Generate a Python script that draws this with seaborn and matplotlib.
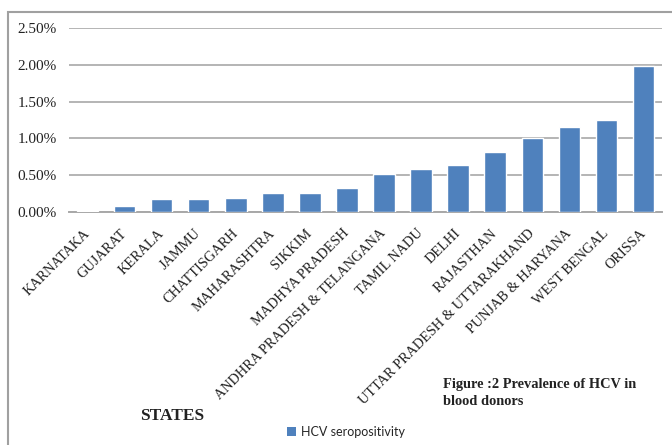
import matplotlib
matplotlib.use("Agg")
import matplotlib.pyplot as plt
from matplotlib.patches import Patch, Rectangle
from matplotlib.ticker import FuncFormatter, MultipleLocator
import pandas as pd
import seaborn as sns

# HCV seropositivity among blood donors, by state (percent)
states = [
    "KARNATAKA", "GUJARAT", "KERALA", "JAMMU", "CHATTISGARH", "MAHARASHTRA",
    "SIKKIM", "MADHYA PRADESH", "ANDHRA PRADESH & TELANGANA", "TAMIL NADU",
    "DELHI", "RAJASTHAN", "UTTAR PRADESH & UTTARAKHAND", "PUNJAB & HARYANA",
    "WEST BENGAL", "ORISSA",
]
seropositivity = [0.02, 0.08, 0.17, 0.18, 0.19, 0.26, 0.26, 0.32, 0.51, 0.58,
                  0.64, 0.82, 1.00, 1.15, 1.25, 1.99]
series_name = "HCV seropositivity"

df = pd.DataFrame({"state": states, "value": seropositivity})

sns.set_theme(style="white")
plt.rcParams["font.family"] = ["Liberation Serif", "DejaVu Serif"]

W, H = 672, 445
fig = plt.figure(figsize=(W / 100, H / 100), dpi=100)
ax = fig.add_axes([69 / W, 1 - 212 / H, (662 - 69) / W, (212 - 28) / H])

bar_color = "#4F81BD"
sns.barplot(data=df, x="state", y="value", color=bar_color, width=0.58,
            saturation=1, ax=ax, zorder=3)

ax.set_ylim(0, 2.5)
ax.set_xlim(-0.5, len(states) - 0.5)
ax.yaxis.set_major_locator(MultipleLocator(0.5))
ax.yaxis.set_major_formatter(FuncFormatter(lambda v, _: f"{v:.2f}%"))
ax.grid(axis="y", color="#b4b4b4", linewidth=1.4, zorder=0)
ax.set_axisbelow(True)
for side in ("top", "right", "left"):
    ax.spines[side].set_visible(False)
ax.spines["bottom"].set_color("#a8a8a8")
ax.spines["bottom"].set_linewidth(1.4)
ax.spines["bottom"].set_zorder(1)
ax.tick_params(axis="y", length=0, pad=9, labelsize=11, labelcolor="#222222")
ax.tick_params(axis="x", length=0, pad=14)
ax.set_xlabel("")
ax.set_ylabel("")
ax.set_xticks(range(len(states)))
ax.set_xticklabels(states, rotation=45, ha="right", va="center",
                   rotation_mode="anchor", fontsize=10.3, color="#222222")

# Axis title and caption
fig.text(172 / W, 1 - 416 / H, "STATES", ha="center", va="center",
         fontsize=12.5, fontweight="bold", color="#222222")
fig.text(443 / W, 1 - 393 / H, "Figure :2 Prevalence of HCV in\nblood donors",
         ha="left", va="center", fontsize=10.4, fontweight="bold",
         color="#222222", linespacing=1.45)

# Legend
handle = Patch(facecolor=bar_color, edgecolor="none", label=series_name)
fig.legend(handles=[handle], loc="center", bbox_to_anchor=(346 / W, 1 - 432 / H),
           frameon=False, handlelength=0.7, handleheight=0.7, handletextpad=0.4,
           prop={"family": ["Lato", "DejaVu Sans"], "size": 9})

# Outer frame
fig.patches.append(Rectangle((8 / W, -0.05), 1.1, 1 - 12.5 / H + 0.05,
                             transform=fig.transFigure, fill=False,
                             edgecolor="#a0a0a0", linewidth=1.5))

fig.savefig("out.png", dpi=100, facecolor="white")
